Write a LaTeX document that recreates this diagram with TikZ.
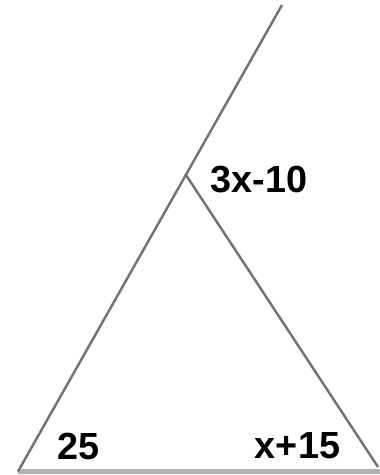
\documentclass[tikz,border=0pt]{standalone}
\usepackage{fontspec}
\setmainfont{Liberation Sans}
\begin{document}
\begin{tikzpicture}[side/.style={line width=1.4pt, black!55},
    base/.style={line width=2.4pt, black!30},
    lbl/.style={font=\fontsize{21.5}{25}\selectfont\bfseries, inner sep=0pt}]
    \useasboundingbox (0,0) rectangle (7.6,9.5);
    % Corners
    \coordinate (A) at (0.36,0.07);
    \coordinate (B) at (7.56,0.16);
    \coordinate (C) at (3.72,6.00);
    \coordinate (T) at (5.64,9.40);
    \coordinate (E) at (7.62,0.07);
    % Sides
    \draw[base] (A) -- (E);
    \draw[side] (A) -- (T);
    \draw[side] (C) -- (B);
    % Angles
    \node[lbl] (top) at (5.18,5.90) {3x-10};
    \node[lbl] (left) at (1.57,0.58) {25};
    \node[lbl] (right) at (5.95,0.58) {x+15};
\end{tikzpicture}
\end{document}
